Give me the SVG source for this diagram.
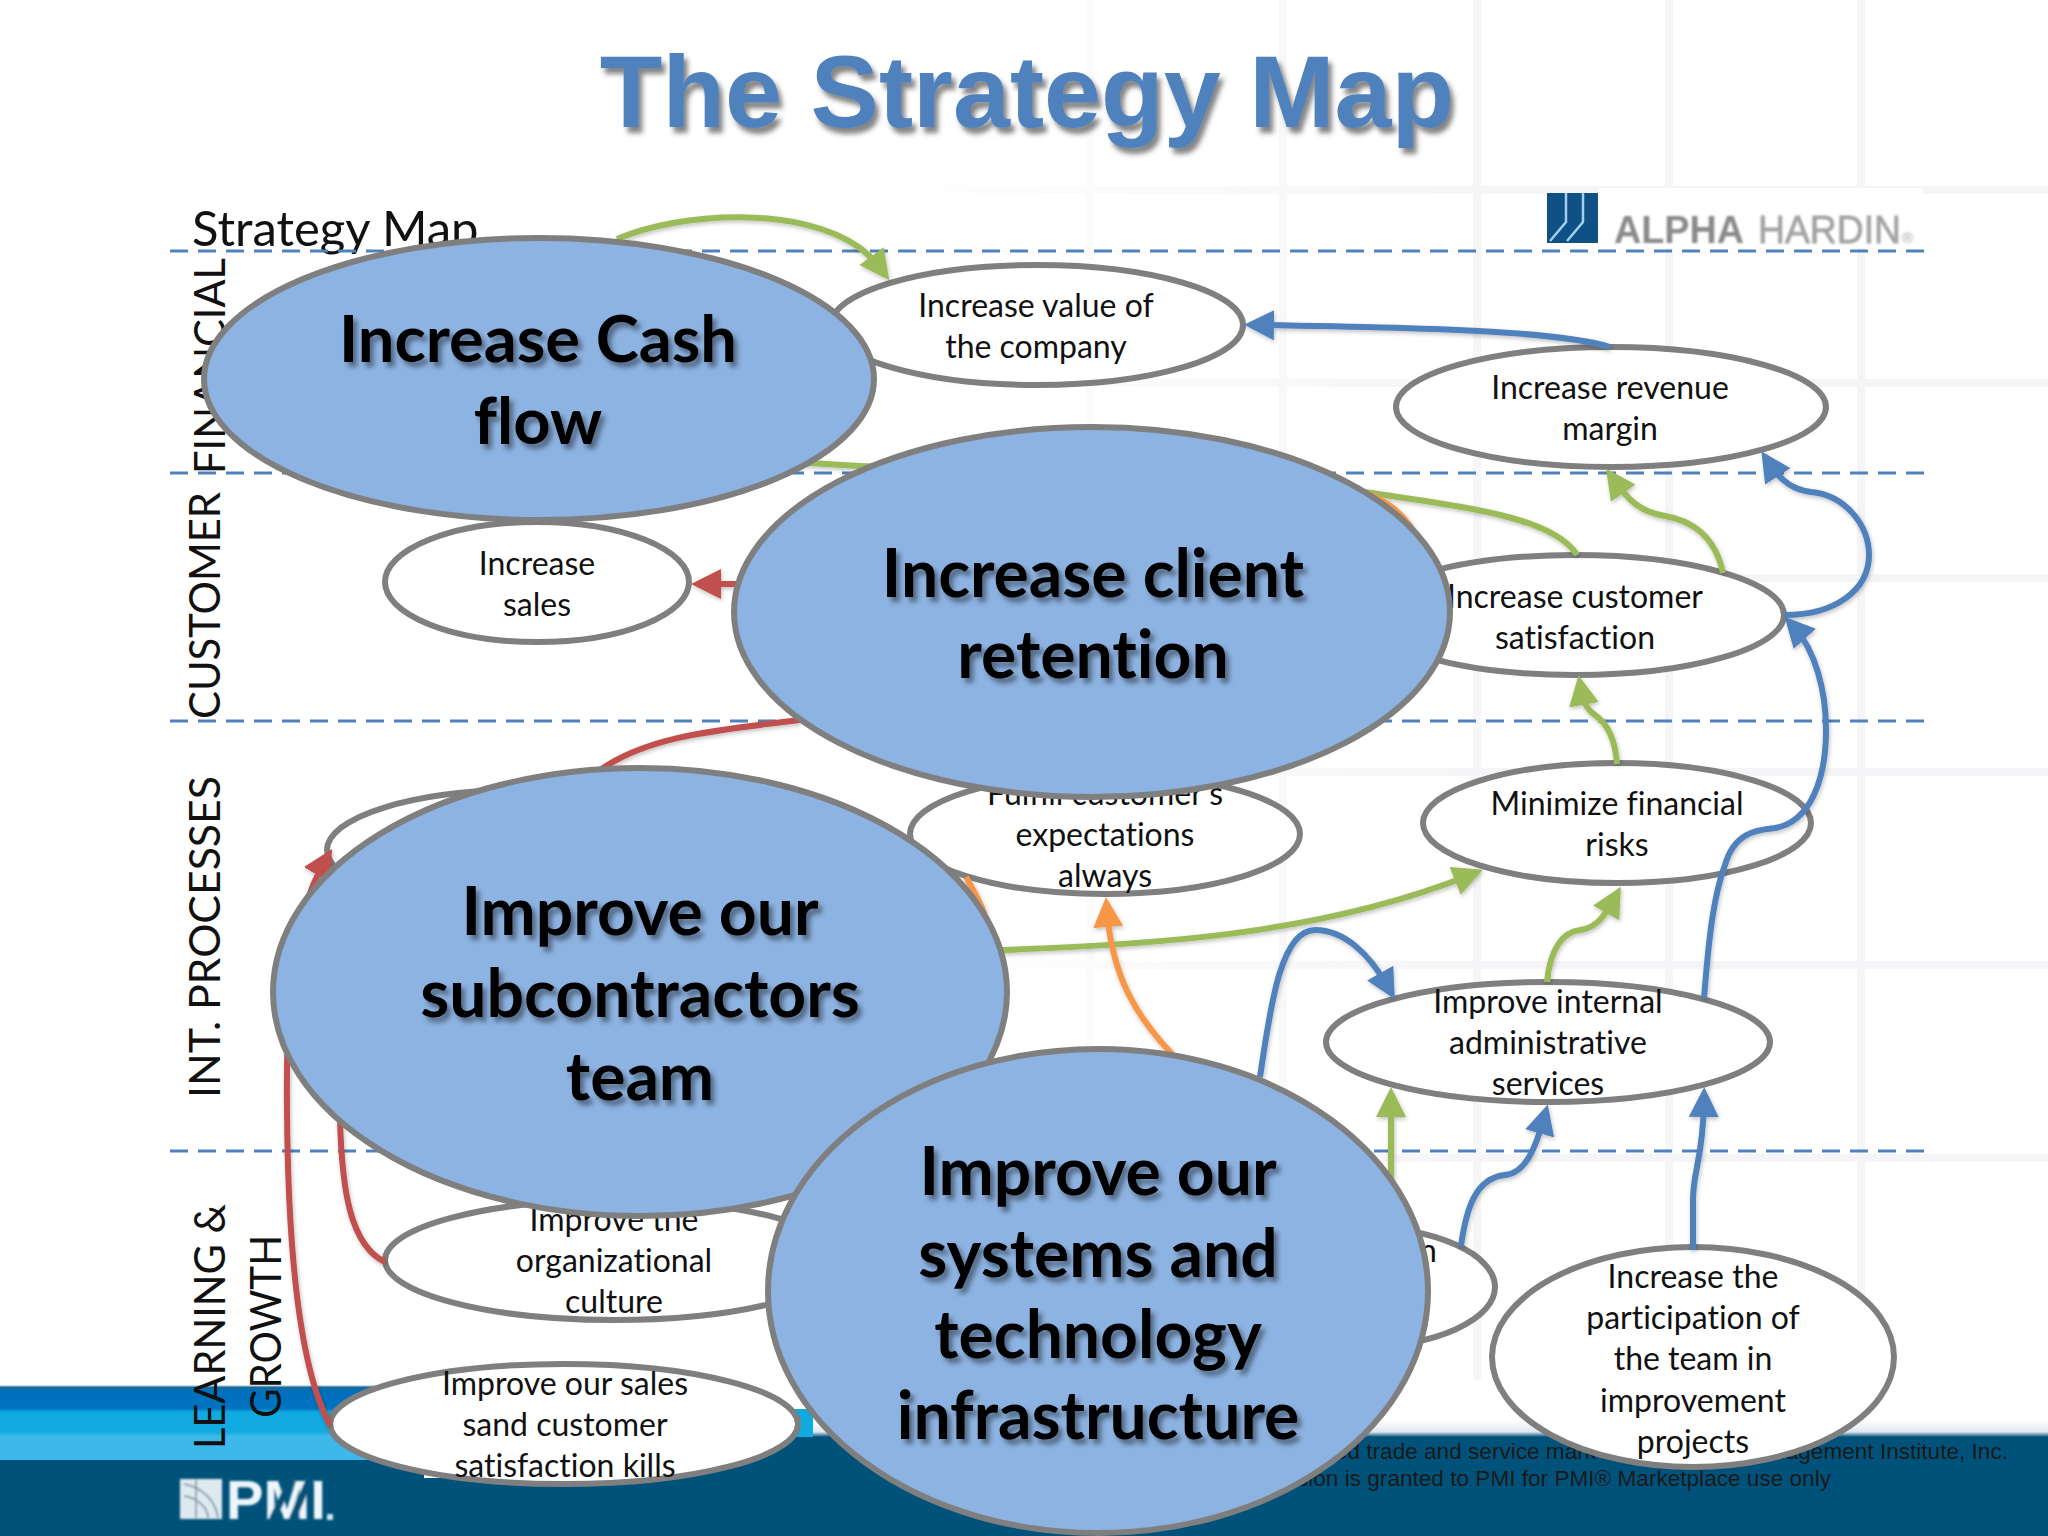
<svg xmlns="http://www.w3.org/2000/svg" width="2048" height="1536" viewBox="0 0 2048 1536">
<style>
text{font-variant-ligatures:none}
.grid{fill:none;stroke-width:8}
.sep{stroke:#4F81BD;stroke-width:3;stroke-dasharray:18 10;fill:none}
.lane{font-family:"Lato","Liberation Sans",sans-serif;font-size:43px;fill:#111}
.small ellipse{fill:#fff;stroke:#7F7F7F;stroke-width:6}
.big ellipse{fill:#8DB3E2;stroke:#7F7F7F;stroke-width:6}
.small text{font-family:"Lato","Liberation Sans",sans-serif;font-size:32px;fill:#111;text-anchor:middle}
.big text{font-family:"Lato","Liberation Sans",sans-serif;font-size:66px;font-weight:700;fill:#000;text-anchor:middle}
.c{fill:none;stroke-width:6}
.g{stroke:#9BBB59}.b{stroke:#4F81BD}.r{stroke:#C0504D}.o{stroke:#F79646}
.foot{font-family:"Liberation Sans",Arial,sans-serif;font-size:22.6px;fill:#1a1a1a;text-anchor:end}
</style>
<defs>
<linearGradient id="gv" gradientUnits="userSpaceOnUse" x1="850" y1="0" x2="1500" y2="0"><stop offset="0" stop-color="#fff"/><stop offset="1" stop-color="#f5f5f7"/></linearGradient>
<linearGradient id="bandL" gradientUnits="userSpaceOnUse" x1="0" y1="1385" x2="0" y2="1460">
<stop offset="0" stop-color="#fff"/><stop offset=".03" stop-color="#1b6a97"/><stop offset=".08" stop-color="#0070BC"/><stop offset=".31" stop-color="#0072C0"/><stop offset=".36" stop-color="#10A9E0"/><stop offset=".63" stop-color="#12ABE2"/><stop offset=".68" stop-color="#3DB8E8"/><stop offset="1" stop-color="#3DB8E8"/>
</linearGradient>
<linearGradient id="bandR" gradientUnits="userSpaceOnUse" x1="0" y1="1420" x2="0" y2="1437"><stop offset="0" stop-color="#fff"/><stop offset=".7" stop-color="#dfe8ee"/><stop offset="1" stop-color="#00527A"/></linearGradient>
<filter id="ts" x="-10%" y="-20%" width="125%" height="150%"><feDropShadow dx="4" dy="5" stdDeviation="2.5" flood-color="#000" flood-opacity=".42"/></filter>
<filter id="tt" x="-5%" y="-20%" width="115%" height="150%"><feDropShadow dx="4" dy="6" stdDeviation="2.5" flood-color="#333" flood-opacity=".6"/></filter>
<filter id="cs" x="-10%" y="-10%" width="120%" height="120%"><feDropShadow dx="1" dy="2" stdDeviation="2" flood-color="#000" flood-opacity=".25"/></filter>
<filter id="soft" x="-5%" y="-10%" width="110%" height="120%"><feGaussianBlur stdDeviation="1"/></filter>
<marker id="mg" markerUnits="userSpaceOnUse" markerWidth="30" markerHeight="30" refX="16" refY="15" orient="auto"><path d="M0 0L30 15L0 30Z" fill="#9BBB59"/></marker>
<marker id="mb" markerUnits="userSpaceOnUse" markerWidth="30" markerHeight="30" refX="16" refY="15" orient="auto"><path d="M0 0L30 15L0 30Z" fill="#4F81BD"/></marker>
<marker id="mr" markerUnits="userSpaceOnUse" markerWidth="30" markerHeight="30" refX="16" refY="15" orient="auto"><path d="M0 0L30 15L0 30Z" fill="#C0504D"/></marker>
<marker id="mo" markerUnits="userSpaceOnUse" markerWidth="30" markerHeight="30" refX="16" refY="15" orient="auto"><path d="M0 0L30 15L0 30Z" fill="#F79646"/></marker>
</defs>
<rect width="2048" height="1536" fill="#fff"/>
<g id="background">
<path class="grid" stroke="url(#gv)" d="M1090 0V1380M1283 0V1380M1477 0V1380M1669 0V1380M1861 0V1380M850 190H2048M850 383H2048M850 578H2048M850 772H2048M850 965H2048M850 1158H2048"/>
<rect x="0" y="1385" width="735" height="52" fill="url(#bandL)"/>
<rect x="735" y="1409" width="78" height="28" fill="#10A9E0"/>
<rect x="0" y="1437" width="500" height="23" fill="url(#bandL)"/>
<rect x="813" y="1420" width="1235" height="17" fill="url(#bandR)"/>
<rect x="0" y="1460" width="2048" height="76" fill="#00527A"/>
<rect x="500" y="1437" width="1548" height="23" fill="#00527A"/>
<rect x="424" y="1474" width="30" height="4" fill="#fff"/>
</g>
<g id="pmi-logo" filter="url(#soft)">
<rect x="180" y="1479" width="42" height="40" fill="#dfeaf0"/>
<path d="M184 1484C204 1488 216 1502 218 1518M184 1496C198 1498 208 1508 208 1518M196 1480V1518" stroke="#8a9fae" stroke-width="2" fill="none"/>
<text x="226" y="1519" font-family="Liberation Sans,Arial,sans-serif" font-weight="700" font-size="56" fill="#eef6fa" textLength="100" lengthAdjust="spacingAndGlyphs">PMI</text>
<path d="M272 1520L292 1478M292 1520L310 1478" stroke="#00527A" stroke-width="7" fill="none"/>
<rect x="327" y="1514" width="6" height="6" fill="#cfe3ec"/>
</g>
<g id="alpha-logo">
<rect x="1598" y="188" width="325" height="60" fill="#fff"/>
<rect x="1547" y="193" width="51" height="50" fill="#0F5184"/>
<path d="M1566 193V222L1550 241M1583 193V222L1567 241" stroke="#9fd0ee" stroke-width="2.5" fill="none"/>
<g filter="url(#soft)" font-family="Liberation Sans,Arial,sans-serif" font-size="39">
<text x="1614" y="243" fill="#8a8a8a" font-weight="700" textLength="130" lengthAdjust="spacingAndGlyphs">ALPHA</text>
<text x="1758" y="243" fill="#a3a3a3" stroke="#a3a3a3" stroke-width=".8" textLength="143" lengthAdjust="spacingAndGlyphs">HARDIN</text>
<text x="1902" y="243" fill="#a3a3a3" font-size="15">®</text>
</g>
</g>
<text id="title" x="1027" y="127" font-family="Liberation Sans,Arial,sans-serif" font-size="102.5" font-weight="700" fill="#4F81BD" text-anchor="middle" filter="url(#tt)">The Strategy Map</text>
<text id="heading" x="192" y="246" font-family="Lato,Liberation Sans,sans-serif" font-size="49" fill="#111">Strategy Map</text>
<g id="separators">
<path class="sep" d="M170 251H1929M170 473H1929M170 721H1929M170 1151H1929"/>
</g>
<g id="lanes">
<text class="lane" transform="translate(225 474) rotate(-90)" textLength="216" lengthAdjust="spacingAndGlyphs">FINANCIAL</text>
<text class="lane" transform="translate(220 719) rotate(-90)" textLength="227" lengthAdjust="spacingAndGlyphs">CUSTOMER</text>
<text class="lane" transform="translate(220 1098) rotate(-90)" textLength="322" lengthAdjust="spacingAndGlyphs">INT. PROCESSES</text>
<text class="lane" transform="translate(225 1449) rotate(-90)" textLength="245" lengthAdjust="spacingAndGlyphs">LEARNING &amp;</text>
<text class="lane" transform="translate(281 1418) rotate(-90)" textLength="183" lengthAdjust="spacingAndGlyphs">GROWTH</text>
</g>
<g id="footer-text">
<text class="foot" x="2008" y="1459">PMI is a registered trade and service mark of the Project Management Institute, Inc.</text>
<text class="foot" x="1831" y="1486">Permission is granted to PMI for PMI® Marketplace use only</text>
</g>
<g class="small">
<g id="n-value"><ellipse cx="1037" cy="325" rx="206" ry="60"/><text x="1036" y="317">Increase value of</text><text x="1036" y="358">the company</text></g>
<g id="n-margin"><ellipse cx="1611" cy="407" rx="215" ry="60"/><text x="1610" y="399">Increase revenue</text><text x="1610" y="440">margin</text></g>
<g id="n-sales"><ellipse cx="537" cy="582" rx="152" ry="60"/><text x="537" y="575">Increase</text><text x="537" y="616">sales</text></g>
<g id="n-satisfaction"><ellipse cx="1575" cy="615" rx="209" ry="60"/><text x="1575" y="608">Increase customer</text><text x="1575" y="649">satisfaction</text></g>
<g id="n-expectations"><ellipse cx="1105" cy="834" rx="195" ry="60"/><text x="1105" y="805">Fulfill customer's</text><text x="1105" y="846">expectations</text><text x="1105" y="887">always</text></g>
<g id="n-risks"><ellipse cx="1617" cy="823" rx="194" ry="60"/><text x="1617" y="815">Minimize financial</text><text x="1617" y="856">risks</text></g>
<g id="n-hidden"><ellipse cx="522" cy="850" rx="195" ry="60"/></g>
<g id="n-admin"><ellipse cx="1548" cy="1042" rx="222" ry="60"/><text x="1548" y="1013">Improve internal</text><text x="1548" y="1054">administrative</text><text x="1548" y="1095">services</text></g>
<g id="n-culture"><ellipse cx="614" cy="1260" rx="229" ry="60"/><text x="614" y="1231">Improve the</text><text x="614" y="1272">organizational</text><text x="614" y="1313">culture</text></g>
<g id="n-skills"><ellipse cx="564" cy="1424" rx="234" ry="60"/><text x="565" y="1395">Improve our sales</text><text x="565" y="1436">sand customer</text><text x="565" y="1477">satisfaction kills</text></g>
<g id="n-partial"><ellipse cx="1360" cy="1287" rx="135" ry="60"/><text x="1428" y="1262">n</text></g>
<g id="n-participation"><ellipse cx="1693" cy="1357" rx="201" ry="110"/><text x="1693" y="1288">Increase the</text><text x="1693" y="1329">participation of</text><text x="1693" y="1370">the team in</text><text x="1693" y="1412">improvement</text><text x="1693" y="1453">projects</text></g>
</g>
<g id="connectors" filter="url(#cs)">
<path class="c g" marker-end="url(#mg)" d="M617 239C680 212 800 205 860 248Q873 258 881 269"/>
<path class="c b" marker-end="url(#mb)" d="M1610 347C1560 332 1450 328 1258 325"/>
<path class="c g" d="M1577 555C1550 512 1440 505 1340 488C1150 465 950 475 800 462"/>
<path class="c o" d="M1350 488C1385 497 1405 515 1416 535"/>
<path class="c g" marker-end="url(#mg)" d="M1723 573C1715 535 1690 520 1665 516C1640 512 1628 500 1614 480"/>
<path class="c b" marker-end="url(#mb)" d="M1785 615C1835 615 1869 590 1869 555C1869 525 1845 495 1811 492C1795 490 1782 483 1769 463"/>
<path class="c b" marker-end="url(#mb)" d="M1704 998C1708 950 1712 900 1725 865C1735 830 1760 830 1775 828C1810 822 1826 780 1826 730C1826 690 1815 650 1794 627"/>
<path class="c g" marker-end="url(#mg)" d="M1617 764C1615 735 1605 722 1595 715C1585 708 1583 700 1581 689"/>
<path class="c r" marker-end="url(#mr)" d="M745 584H705"/>
<path class="c r" d="M800 720C720 730 650 735 600 770"/>
<path class="c r" stroke-width="5" marker-end="url(#mr)" d="M330 1425C300 1370 288 1250 287 1110C286 1010 290 920 325 861"/>
<path class="c r" d="M385 1262C350 1245 342 1190 340 1120"/>
<path class="c g" marker-end="url(#mg)" d="M1000 950C1150 945 1320 935 1470 875"/>
<path class="c o" marker-end="url(#mo)" d="M1172 1054C1135 1015 1112 975 1107 911"/>
<path class="c o" d="M966 877C972 888 978 897 985 915"/>
<path class="c b" marker-end="url(#mb)" d="M1260 1077C1270 1010 1280 930 1315 930C1345 930 1370 955 1388 987"/>
<path class="c g" marker-end="url(#mg)" d="M1391 1180V1101"/>
<path class="c b" marker-end="url(#mb)" d="M1461 1246C1466 1210 1475 1178 1505 1175C1525 1173 1535 1150 1544 1118"/>
<path class="c b" marker-end="url(#mb)" d="M1693 1250V1200C1693 1170 1703 1160 1704 1101"/>
<path class="c g" marker-end="url(#mg)" d="M1547 982C1550 950 1562 932 1580 930C1597 928 1605 915 1614 899"/>
</g>
<g class="big">
<g id="n-cash"><ellipse cx="539" cy="379" rx="335" ry="141"/><g filter="url(#ts)"><text x="538" y="362" style="font-size:65px">Increase Cash</text><text x="538" y="444" style="font-size:65px">flow</text></g></g>
<g id="n-retention"><ellipse cx="1092" cy="612" rx="358" ry="185"/><g filter="url(#ts)"><text x="1093" y="597">Increase client</text><text x="1093" y="678">retention</text></g></g>
<g id="n-subcontractors"><ellipse cx="640" cy="992" rx="367" ry="224"/><g filter="url(#ts)"><text x="640" y="935">Improve our</text><text x="640" y="1017">subcontractors</text><text x="640" y="1100">team</text></g></g>
<g id="n-systems"><ellipse cx="1098" cy="1291" rx="330" ry="242"/><g filter="url(#ts)"><text x="1098" y="1195">Improve our</text><text x="1098" y="1277">systems and</text><text x="1098" y="1358">technology</text><text x="1098" y="1439">infrastructure</text></g></g>
</g>
</svg>
